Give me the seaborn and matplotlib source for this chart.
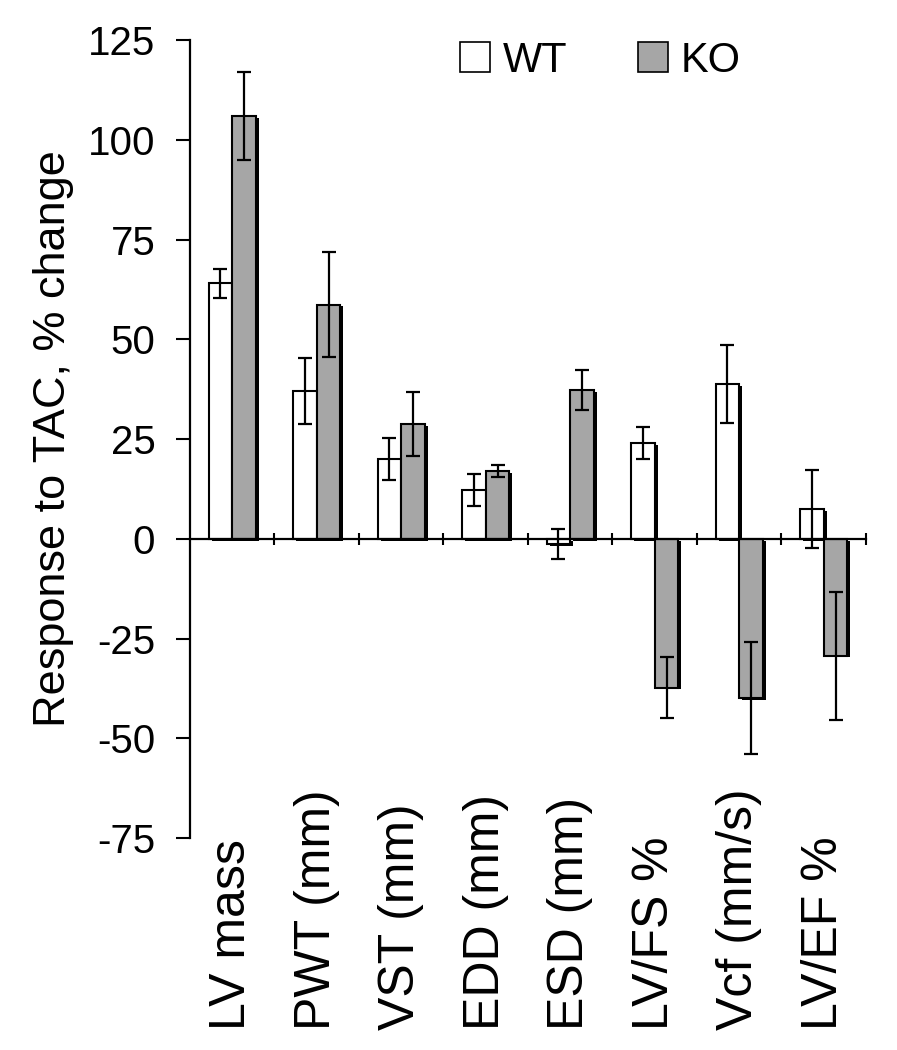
import matplotlib
matplotlib.use("Agg")
import matplotlib.pyplot as plt
import matplotlib.patheffects as pe
from matplotlib.patches import Patch
import numpy as np
import pandas as pd
import seaborn as sns

categories = ["LV mass", "PWT (mm)", "VST (mm)", "EDD (mm)", "ESD (mm)",
              "LV/FS %", "Vcf (mm/s)", "LV/EF %"]
wt_mean = [64, 37, 20, 12.3, -1.3, 24, 38.8, 7.5]
wt_err = [3.7, 8.2, 5.2, 4.0, 3.8, 4.0, 9.7, 9.8]
ko_mean = [106, 58.7, 28.8, 17, 37.3, -37.3, -40, -29.3]
ko_err = [11, 13.2, 8.0, 1.4, 5.0, 7.6, 14, 16]
groups = ["WT", "KO"]
yticks = [125, 100, 75, 50, 25, 0, -25, -50, -75]

df = pd.DataFrame({
    "measure": categories * 2,
    "group": ["WT"] * len(categories) + ["KO"] * len(categories),
    "value": wt_mean + ko_mean,
    "err": wt_err + ko_err,
})

sns.set_style("white")
plt.rcParams["font.family"] = ["Liberation Sans", "DejaVu Sans"]
plt.rcParams["axes.unicode_minus"] = False
plt.rcParams["text.color"] = "black"
plt.rcParams["axes.labelcolor"] = "black"
plt.rcParams["xtick.color"] = "black"
plt.rcParams["ytick.color"] = "black"
plt.rcParams["axes.edgecolor"] = "black"

fig = plt.figure(figsize=(8.97, 10.5), dpi=100)
ax = fig.add_axes([0.2118, 0.2019, 0.9654 - 0.2118, 0.9619 - 0.2019])

shadow = [pe.SimplePatchShadow(offset=(2.2, -1.3), shadow_rgbFace="black", alpha=1), pe.Normal()]
sns.barplot(data=df, x="measure", y="value", hue="group", order=categories,
            hue_order=groups, palette={"WT": "white", "KO": "#a6a6a6"},
            edgecolor="black", linewidth=1.5, width=0.56, errorbar=None,
            legend=False, ax=ax)

# error bars at bar centres
for container, grp in zip(ax.containers, groups):
    sub = df[df["group"] == grp].set_index("measure").loc[categories]
    xs = [p.get_x() + p.get_width() / 2 for p in container.patches]
    for p in container.patches:
        p.set_path_effects(shadow)
    ax.errorbar(xs, sub["value"], yerr=sub["err"], fmt="none", ecolor="black",
                elinewidth=1.6, capsize=5, capthick=1.6, zorder=5)

ax.set_xlim(-0.5, len(categories) - 0.5)
ax.set_ylim(-75, 125)
ax.set_yticks(yticks)
ax.tick_params(axis="y", direction="out", length=10, width=1.5, labelsize=29, pad=15, left=True)
ax.set_ylabel("Response to TAC, % change", fontsize=32.5, labelpad=10)
ax.set_xlabel("")

for s in ["top", "right"]:
    ax.spines[s].set_visible(False)
ax.spines["left"].set_linewidth(1.6)
ax.spines["bottom"].set_position(("data", 0))
ax.spines["bottom"].set_linewidth(1.6)
ax.set_xticks(np.arange(0.5, len(categories), 1.0))
ax.set_xticklabels([])
ax.tick_params(axis="x", direction="inout", length=9, width=1.5, bottom=True)

# category names, start of each label aligned near the bottom edge
sec = ax.secondary_xaxis(0.0)
sec.set_xticks(range(len(categories)))
sec.set_xticklabels(categories, rotation=90, fontsize=36, va="bottom")
sec.tick_params(length=0, pad=138)
sec.spines["bottom"].set_visible(False)

handles = [Patch(facecolor="white", edgecolor="black", linewidth=1.2),
           Patch(facecolor="#a6a6a6", edgecolor="black", linewidth=1.2)]
ax.legend(handles, groups, ncol=2, frameon=False, fontsize=30,
          handlelength=0.72, handleheight=0.72, handletextpad=0.3,
          columnspacing=1.7, loc="upper left", bbox_to_anchor=(0.375, 1.02),
          borderaxespad=0)

fig.savefig("out.png", dpi=100)
